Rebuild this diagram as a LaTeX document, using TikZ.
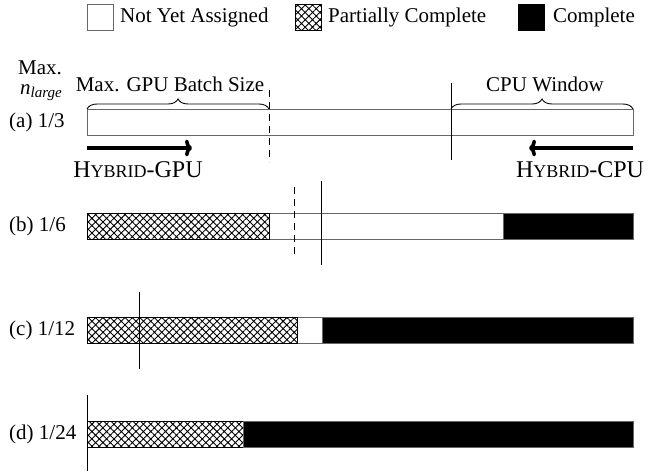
\documentclass[tikz,border=0pt]{standalone}
\usepackage{fontspec}
\setmainfont{Liberation Serif}
\usetikzlibrary{patterns.meta,arrows.meta,decorations.pathreplacing}
\newcommand\hybname[1]{H{\fontsize{18}{20}\selectfont YBRID}-#1}
\begin{document}
\begin{tikzpicture}[x=1pt,y=-1pt,
  txt/.style={font=\fontsize{21}{25}\selectfont, inner sep=0pt},
  bigtxt/.style={font=\fontsize{24}{28}\selectfont, inner sep=0pt},
  emptybar/.style={draw=black!60, fill=white, line width=1pt},
  hatchbar/.style={draw=black, line width=1pt, pattern={Hatch[angle=45,distance=5.2pt,line width=0.9pt]}},
  fullbar/.style={draw=black!60, fill=black, line width=1pt},
  marker/.style={draw=black, line width=0.9pt},
  dmarker/.style={draw=black, line width=0.9pt, dash pattern=on 7pt off 5pt},
  bigarrow/.style={line width=3.6pt, -{To[length=7pt,width=17pt]}},
  bracestyle/.style={decorate, decoration={brace, amplitude=10pt}, line width=0.9pt}
]
\useasboundingbox (0,0) rectangle (650,472);

% legend
\draw[emptybar] (87,4) rectangle (113,30);
\node[txt, anchor=west] (l1) at (120,17) {Not Yet Assigned};
\draw[hatchbar] (295,4) rectangle (321,30);
\node[txt, anchor=west] (l2) at (328,17) {Partially Complete};
\draw[black, fill=black] (518,4) rectangle (544,30);
\node[txt, anchor=west] (l3) at (553,17) {Complete};

% header
\node[txt] (max) at (40,68) {Max.};
\node[txt, anchor=north] (nl) at (41,84) {\textit{n}\raisebox{-0.35ex}{\fontsize{15}{15}\selectfont\textit{large}}};

% row (a)
\node[txt, anchor=west] (ra) at (9,122) {(a) 1/3};
\draw[emptybar] (87,109) rectangle (633,135);
\draw[bracestyle] (87,109) -- (269,109);
\draw[bracestyle] (451,109) -- (633,109);
\node[txt] (gpub) at (170,84) {Max. GPU Batch Size};
\node[txt] (cpuw) at (545,84) {CPU Window};
\coordinate (da1) at (269,90); \coordinate (da2) at (269,162);
\draw[dmarker] (da1) -- (da2);
\coordinate (sa1) at (451,83); \coordinate (sa2) at (451,160);
\draw[marker] (sa1) -- (sa2);
\coordinate (ga1) at (87,148); \coordinate (ga2) at (192,148);
\draw[bigarrow] (ga1) -- (ga2);
\coordinate (ca1) at (633,148); \coordinate (ca2) at (529,148);
\draw[bigarrow] (ca1) -- (ca2);
\node[bigtxt] (hg) at (138,170) {\hybname{GPU}};
\node[bigtxt] (hc) at (580,170) {\hybname{CPU}};

% row (b)
\node[txt, anchor=west] (rb) at (9,226) {(b) 1/6};
\draw[emptybar] (87,213) rectangle (633,239);
\draw[hatchbar] (87,213) rectangle (269,239);
\draw[fullbar] (503,213) rectangle (633,239);
\coordinate (db1) at (294,187); \coordinate (db2) at (294,258);
\draw[dmarker] (db1) -- (db2);
\coordinate (sb1) at (321,181); \coordinate (sb2) at (321,265);
\draw[marker] (sb1) -- (sb2);

% row (c)
\node[txt, anchor=west] (rc) at (9,330) {(c) 1/12};
\draw[emptybar] (87,317) rectangle (633,343);
\draw[hatchbar] (87,317) rectangle (297,343);
\draw[fullbar] (322,317) rectangle (633,343);
\coordinate (sc1) at (139,292); \coordinate (sc2) at (139,369);
\draw[marker] (sc1) -- (sc2);

% row (d)
\node[txt, anchor=west] (rd) at (9,434) {(d) 1/24};
\draw[emptybar] (87,421) rectangle (633,447);
\draw[hatchbar] (87,421) rectangle (243,447);
\draw[fullbar] (243,421) rectangle (633,447);
\coordinate (sd1) at (87,395); \coordinate (sd2) at (87,471);
\draw[marker] (sd1) -- (sd2);
\end{tikzpicture}
\end{document}
